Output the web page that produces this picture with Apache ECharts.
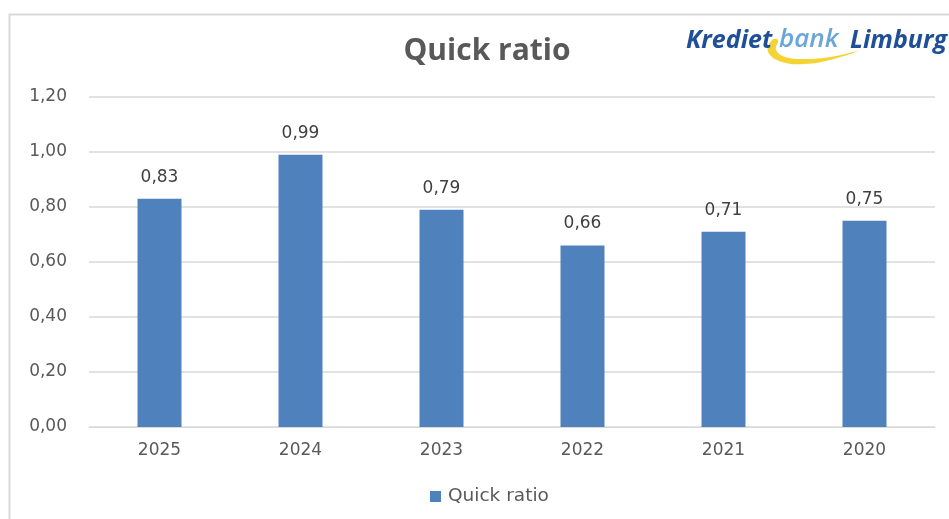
<!DOCTYPE html>
<html><head><meta charset="utf-8">
<script src="https://cdn.jsdelivr.net/npm/echarts@6/dist/echarts.min.js"></script>
<style>html,body{margin:0;padding:0;background:#fff}#c{width:949px;height:519px}</style>
</head><body><div id="c"></div>
<script>
const categories = ['2025','2024','2023','2022','2021','2020'];
const quickRatio = [0.83, 0.99, 0.79, 0.66, 0.71, 0.75];
const seriesName = 'Quick ratio';
const titleText = 'Quick ratio';
const fmt = v => v.toFixed(2).replace('.', ',');
const chart = echarts.init(document.getElementById('c'));
const FONT = '"Open Sans", "Noto Sans", sans-serif';
const SMALL = '"DejaVu Sans", sans-serif';
chart.setOption({
  animation: false,
  textStyle: { fontFamily: SMALL },
  title: { text: titleText, left: 482, top: 31, textAlign: 'center',
    textStyle: { fontSize: 30, fontWeight: 'bold', color: '#595959', fontFamily: FONT } },
  grid: { left: 89, right: 14, top: 97, bottom: 92, containLabel: false },
  legend: { bottom: 8, left: 425, itemWidth: 11, itemHeight: 11, icon: 'rect', itemGap: 8,
    textStyle: { fontSize: 18.5, color: '#595959', fontFamily: SMALL, padding: [0, 0, 0, 2] }, data: [seriesName] },
  xAxis: { type: 'category', data: categories,
    axisLine: { lineStyle: { color: '#d9d9d9', width: 1 } }, axisTick: { show: false },
    axisLabel: { fontSize: 17, color: '#595959', margin: 15, fontFamily: SMALL } },
  yAxis: { type: 'value', min: 0, max: 1.2, interval: 0.2,
    axisLine: { show: false }, axisTick: { show: false },
    splitLine: { lineStyle: { color: '#d9d9d9', width: 1.5 } },
    axisLabel: { fontSize: 17, color: '#595959', margin: 22, fontFamily: SMALL, formatter: v => fmt(v) } },
  series: [{ name: seriesName, type: 'bar', data: quickRatio, barWidth: 44,
    itemStyle: { color: '#4F81BD' },
    label: { show: true, position: 'top', distance: 13, fontSize: 17, color: '#404040', fontFamily: SMALL,
      formatter: p => fmt(p.value) } }],
  graphic: [
    { type: 'rect', shape: { x: 9.5, y: 14.5, width: 960, height: 520 }, silent: true,
      style: { fill: 'none', stroke: '#d9d9d9', lineWidth: 2 }, z: -10 },
    { type: 'polygon', silent: true, z: 5,
      shape: { smooth: 0.4, points: [[772,40],[768,52],[782,62],[805,64],[830,60],[858,51],[830,57],[805,59],[785,57],[776,50],[778,40]] },
      style: { fill: '#f4d435' } },
    { type: 'text', left: 686, top: 28, z: 10,
      style: { text: 'Krediet', font: 'italic bold 25px "Open Sans", sans-serif', fill: '#1f4f97' } },
    { type: 'text', left: 779, top: 27, z: 10,
      style: { text: 'bank', font: 'italic 600 26px "Open Sans", sans-serif', fill: '#6aa7d8' } },
    { type: 'text', left: 850, top: 28, z: 10,
      style: { text: 'Limburg', font: 'italic bold 25px "Open Sans", sans-serif', fill: '#1f4f97' } }
  ]
});
</script></body></html>
